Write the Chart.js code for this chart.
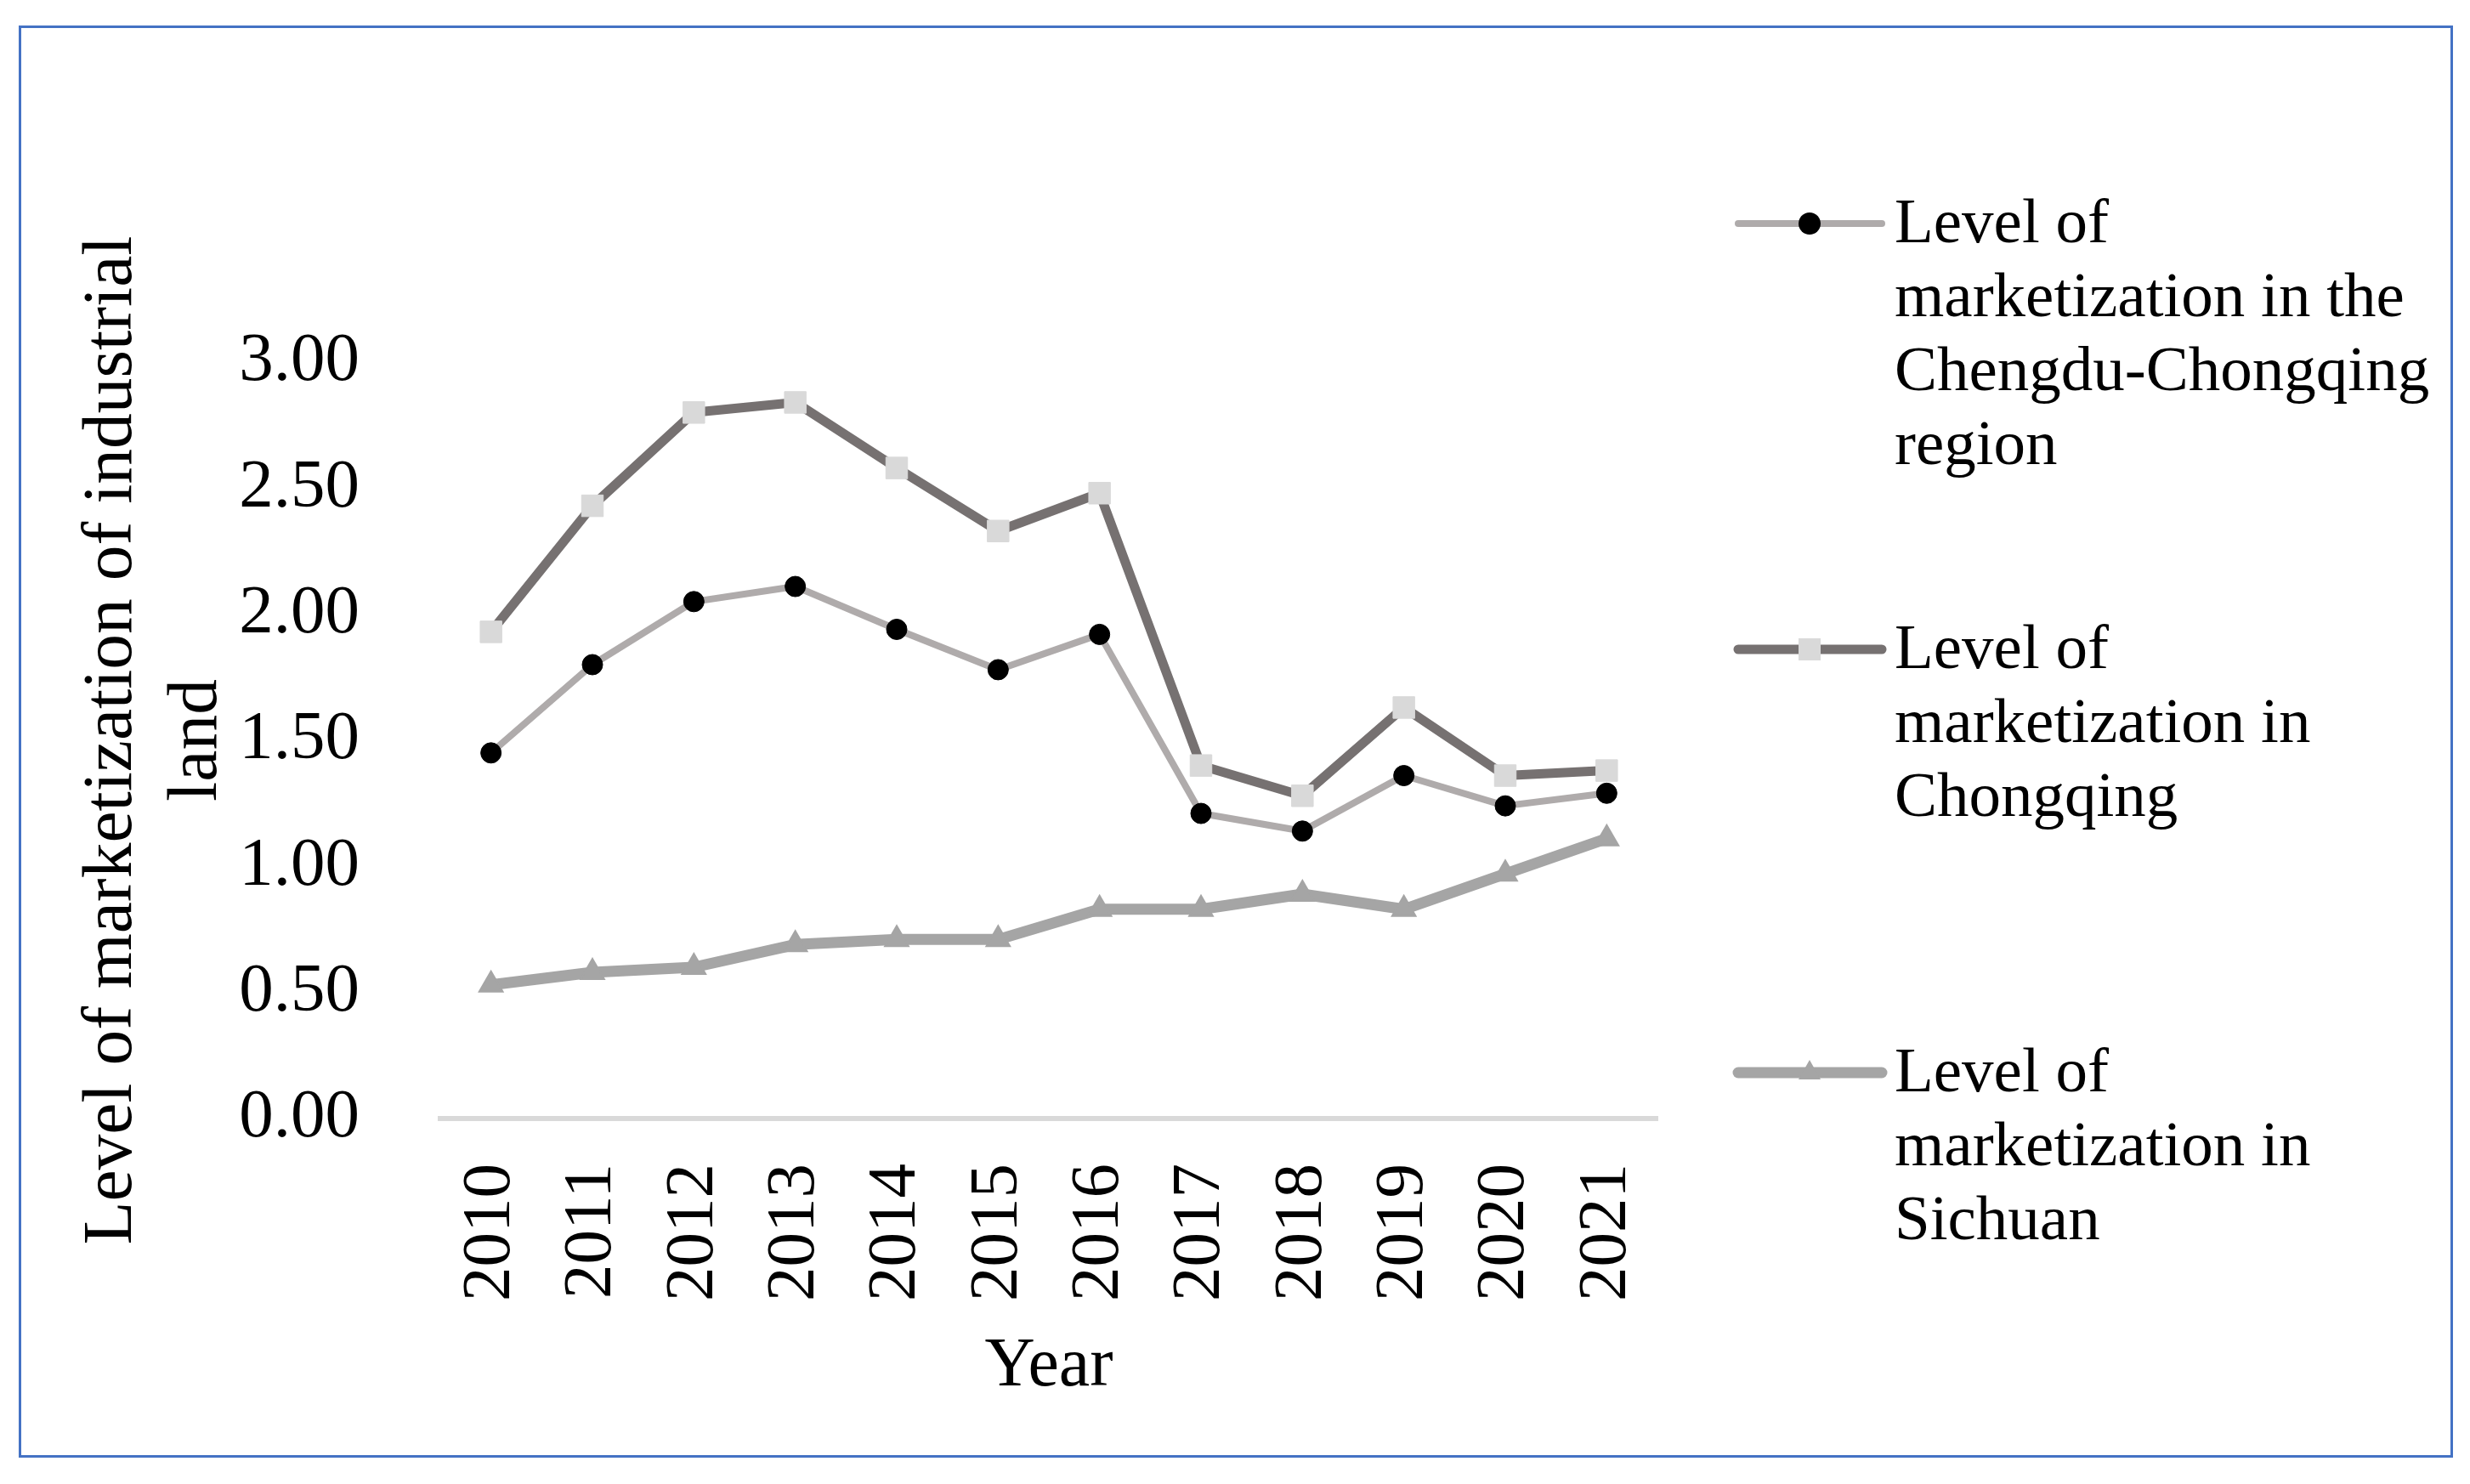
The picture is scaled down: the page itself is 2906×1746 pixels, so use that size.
<!DOCTYPE html>
<html>
<head>
<meta charset="utf-8">
<script src="https://cdn.jsdelivr.net/npm/chart.js@4.4.1/dist/chart.umd.min.js"></script>
<style>
html,body{margin:0;padding:0;background:#fff;}
#wrap{position:relative;width:2906px;height:1746px;overflow:hidden;background:#fff;}
#c{position:absolute;left:0;top:0;}
#legsvg{position:absolute;left:0;top:0;}
#frame{position:absolute;left:22px;top:30px;width:2864px;height:1685px;box-sizing:border-box;border:3px solid #4472C4;pointer-events:none;}
.leg{position:absolute;left:2229px;font-family:'Liberation Serif','Times New Roman',serif;font-size:75px;line-height:87px;color:#000;white-space:nowrap;}
</style>
</head>
<body>
<div id="wrap">
  <canvas id="c" width="2906" height="1746"></canvas>
  <svg id="legsvg" width="2906" height="1746" xmlns="http://www.w3.org/2000/svg"></svg>
  <div id="frame"></div>
</div>
<script>
// ---- data ----
const years = ['2010','2011','2012','2013','2014','2015','2016','2017','2018','2019','2020','2021'];
const chengduChongqing = [1.45, 1.80, 2.05, 2.11, 1.94, 1.78, 1.92, 1.21, 1.14, 1.36, 1.24, 1.29];
const chongqing        = [1.93, 2.43, 2.80, 2.84, 2.58, 2.33, 2.48, 1.40, 1.28, 1.63, 1.36, 1.38];
const sichuan          = [0.53, 0.58, 0.60, 0.69, 0.71, 0.71, 0.83, 0.83, 0.89, 0.83, 0.97, 1.11];
const seriesNames = [
  'Level of marketization in the Chengdu-Chongqing region',
  'Level of marketization in Chongqing',
  'Level of marketization in Sichuan'
];
const legendLines = [
  ['Level of', 'marketization in the', 'Chengdu-Chongqing', 'region'],
  ['Level of', 'marketization in', 'Chongqing'],
  ['Level of', 'marketization in', 'Sichuan']
];
const yTickLabels = ['0.00','0.50','1.00','1.50','2.00','2.50','3.00'];
const yTitle = ['Level of marketization of industrial', 'land'];
const xTitle = 'Year';

// ---- styles ----
const FONT = "'Liberation Serif','Times New Roman',serif";
const styles = [
  {line:'#AFABAB', width:8,  point:'circle',   radius:12, fill:'#000000', stroke:'#000000', bw:1, order:2},
  {line:'#767171', width:11, point:'rect',     radius:18, fill:'#D9D9D9', stroke:'#D9D9D9', bw:1, order:1},
  {line:'#A5A5A5', width:13, point:'triangle', radius:16, fill:'#A5A5A5', stroke:'#A5A5A5', bw:2, order:0}
];
const seriesData = [chengduChongqing, chongqing, sichuan];

Chart.defaults.font.family = FONT;
Chart.defaults.color = '#000';

const datasets = seriesData.map((d, i) => ({
  label: seriesNames[i],
  data: d,
  borderColor: styles[i].line,
  borderWidth: styles[i].width,
  borderJoinStyle: 'round',
  borderCapStyle: 'round',
  tension: 0,
  fill: false,
  pointStyle: styles[i].point,
  pointRadius: styles[i].radius,
  pointBackgroundColor: styles[i].fill,
  pointBorderColor: styles[i].stroke,
  pointBorderWidth: styles[i].bw,
  order: styles[i].order,
  clip: false
}));

new Chart(document.getElementById('c').getContext('2d'), {
  type: 'line',
  data: { labels: years, datasets },
  options: {
    responsive: false,
    animation: false,
    devicePixelRatio: 1,
    events: [],
    layout: { padding: { left: 30, right: 956, top: 426, bottom: 30 } },
    plugins: { legend: { display: false }, tooltip: { enabled: false } },
    scales: {
      x: {
        type: 'category',
        offset: true,
        grid: { display: false, drawTicks: false },
        border: { display: true, color: '#D9D9D9', width: 6 },
        ticks: { font: { size: 81 }, color: '#000', maxRotation: 90, minRotation: 90, padding: 53, autoSkip: false },
        title: { display: true, text: xTitle, color: '#000', font: { size: 82, lineHeight: 1.2 }, padding: { top: 0, bottom: 58 } },
        afterFit(s) { s.height = 400; }
      },
      y: {
        min: 0, max: 3,
        grid: { display: false, drawTicks: false },
        border: { display: false },
        ticks: { stepSize: 0.5, font: { size: 81 }, color: '#000', padding: 95,
                 callback: (v, i) => yTickLabels[i] },
        title: { display: true, text: yTitle, color: '#000', font: { size: 83.5, lineHeight: 1.198 }, padding: { top: 52, bottom: 0 } },
        afterFit(s) { s.width = 488; }
      }
    }
  }
});

// ---- legend (HTML text + SVG samples) ----
const legSampleY = [263, 764, 1262];
const legTextTop = [216, 717, 1215];
const svg = document.getElementById('legsvg');
const NS = 'http://www.w3.org/2000/svg';
const x1 = 2045, x2 = 2214, mx = 2129;
styles.forEach((st, i) => {
  const y = legSampleY[i];
  const ln = document.createElementNS(NS, 'line');
  ln.setAttribute('x1', x1); ln.setAttribute('x2', x2);
  ln.setAttribute('y1', y); ln.setAttribute('y2', y);
  ln.setAttribute('stroke', st.line);
  ln.setAttribute('stroke-width', st.width);
  ln.setAttribute('stroke-linecap', 'round');
  svg.appendChild(ln);
  let m;
  if (st.point === 'circle') {
    m = document.createElementNS(NS, 'circle');
    m.setAttribute('cx', mx); m.setAttribute('cy', y); m.setAttribute('r', 13);
  } else if (st.point === 'rect') {
    m = document.createElementNS(NS, 'rect');
    m.setAttribute('x', mx - 13); m.setAttribute('y', y - 13);
    m.setAttribute('width', 26); m.setAttribute('height', 26);
  } else {
    m = document.createElementNS(NS, 'polygon');
    m.setAttribute('points', `${mx},${y-15} ${mx+13},${y+8} ${mx-13},${y+8}`);
  }
  m.setAttribute('fill', st.fill);
  svg.appendChild(m);

  const div = document.createElement('div');
  div.className = 'leg';
  div.style.top = legTextTop[i] + 'px';
  div.innerHTML = legendLines[i].join('<br>');
  document.getElementById('wrap').appendChild(div);
});
</script>
</body>
</html>
